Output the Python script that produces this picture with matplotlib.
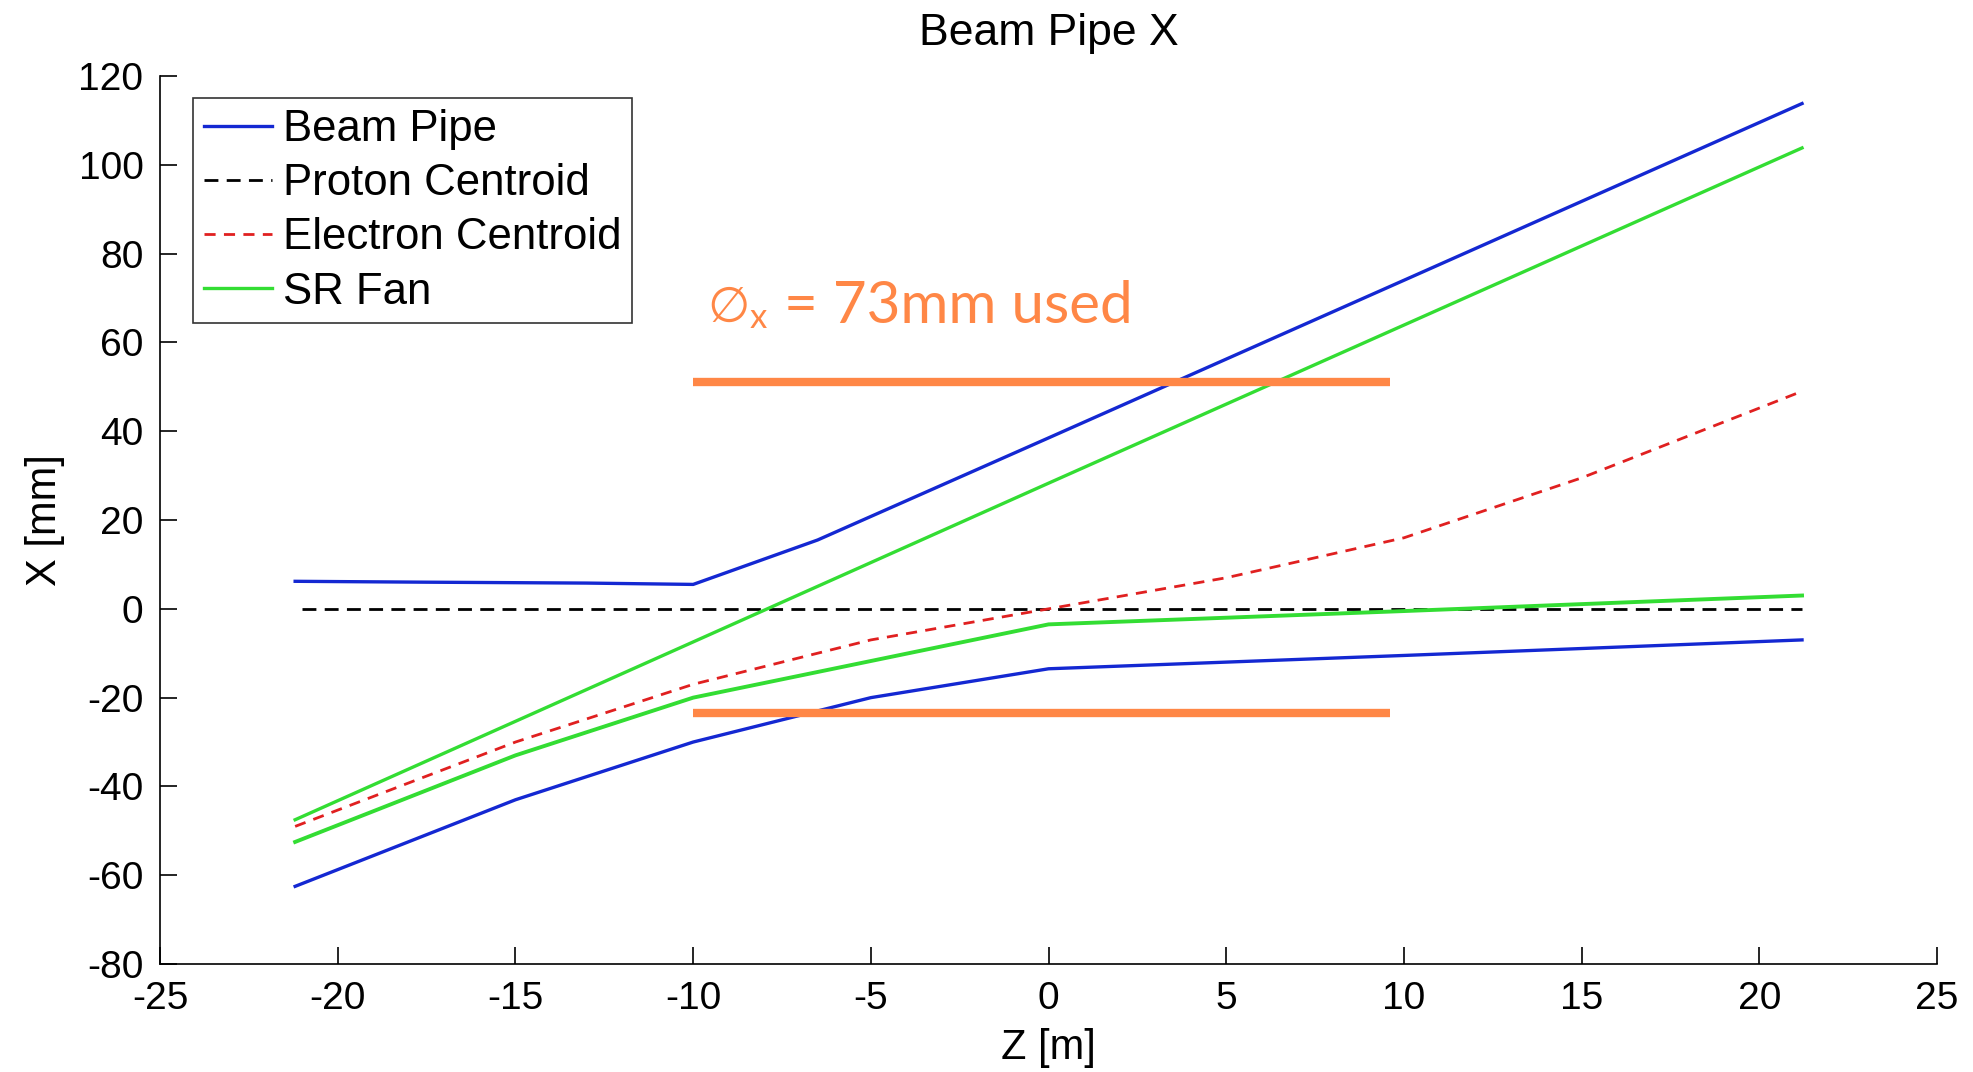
import matplotlib
matplotlib.use("Agg")
import matplotlib.pyplot as plt

plt.rcParams['font.family'] = ['Liberation Sans', 'DejaVu Sans']
plt.rcParams['axes.unicode_minus'] = False

# beam pipe, upper and lower walls
pipe_up_z = [-21.2, -17.5, -13.0, -10.0, -6.5, 0.0, 10.0, 21.2]
pipe_up_x = [6.2, 6.0, 5.8, 5.5, 15.5, 38.5, 74.0, 113.8]
pipe_lo_z = [-21.2, -15.0, -10.0, -5.0, 0.0, 10.0, 21.2]
pipe_lo_x = [-62.5, -43.0, -30.0, -20.0, -13.5, -10.5, -7.0]

# proton centroid
proton_z = [-21.0, 21.2]
proton_x = [0.0, 0.0]

# electron centroid
elec_z = [-21.2, -15.0, -10.0, -5.0, 0.0, 5.0, 10.0, 15.0, 21.2]
elec_x = [-49.0, -30.0, -17.0, -7.0, 0.0, 7.0, 16.0, 29.5, 49.0]

# SR fan, upper and lower edges
fan_up_z = [-21.2, 0.0, 21.2]
fan_up_x = [-47.5, 28.3, 103.8]
fan_lo_z = [-21.2, -15.0, -10.0, 0.0, 10.0, 21.2]
fan_lo_x = [-52.5, -33.0, -20.0, -3.5, -0.5, 3.0]

# 73 mm aperture marks
aperture_z = [-10.0, 9.6]
aperture_top = 51.0
aperture_bot = -23.5

blue = "#1428d2"
green = "#33dd33"
red = "#e02020"
orange = "#ff8746"

fig = plt.figure(figsize=(19.74, 10.72), dpi=100)
ax = fig.add_axes([0.0811, 0.1007, 0.9002, 0.8284])

ax.plot(pipe_up_z, pipe_up_x, color=blue, lw=2.4, label="Beam Pipe")
ax.plot(proton_z, proton_x, color="black", lw=2.0, ls=(0, (5, 3)), label="Proton Centroid")
ax.plot(elec_z, elec_x, color=red, lw=2.0, ls=(0, (4, 3)), label="Electron Centroid")
ax.plot(fan_up_z, fan_up_x, color=green, lw=2.4, label="SR Fan")
ax.plot(pipe_lo_z, pipe_lo_x, color=blue, lw=2.4)
ax.plot(fan_lo_z, fan_lo_x, color=green, lw=2.8)

ax.plot(aperture_z, [aperture_top, aperture_top], color=orange, lw=6, solid_capstyle="butt")
ax.plot(aperture_z, [aperture_bot, aperture_bot], color=orange, lw=6, solid_capstyle="butt")

# annotation: diameter sign, subscript x, rest of the text
ax.text(-9.6, 64.6, "\u2205", color=orange, fontsize=35, family=["Lato", "DejaVu Sans"],
        va="baseline", ha="left")
ax.text(-8.4, 63.2, "x", color=orange, fontsize=25, family="Lato", va="baseline", ha="left")
ax.text(-7.45, 64.4, "= 73mm used", color=orange, fontsize=42, family="Lato",
        va="baseline", ha="left")

ax.set_xlim(-25, 25)
ax.set_ylim(-80, 120)
ax.set_xticks(range(-25, 26, 5))
ax.set_yticks(range(-80, 121, 20))
ax.spines['top'].set_visible(False)
ax.spines['right'].set_visible(False)
for s in ['left', 'bottom']:
    ax.spines[s].set_linewidth(1.2)
ax.tick_params(direction="in", length=12, width=1.2, labelsize=28, pad=12)

ax.set_title("Beam Pipe X", fontsize=32, pad=22)
ax.set_xlabel("Z [m]", fontsize=30, labelpad=8)
ax.set_ylabel("X [mm]", fontsize=30, labelpad=10)

leg = ax.legend(loc="upper left", bbox_to_anchor=(0.0186, 0.975), fontsize=31.5,
                frameon=True, fancybox=False, edgecolor="black", handlelength=1.55,
                handletextpad=0.25, borderpad=0.25, labelspacing=0.3, borderaxespad=0)
leg.get_frame().set_linewidth(1.2)

fig.savefig("out.png", dpi=100)
